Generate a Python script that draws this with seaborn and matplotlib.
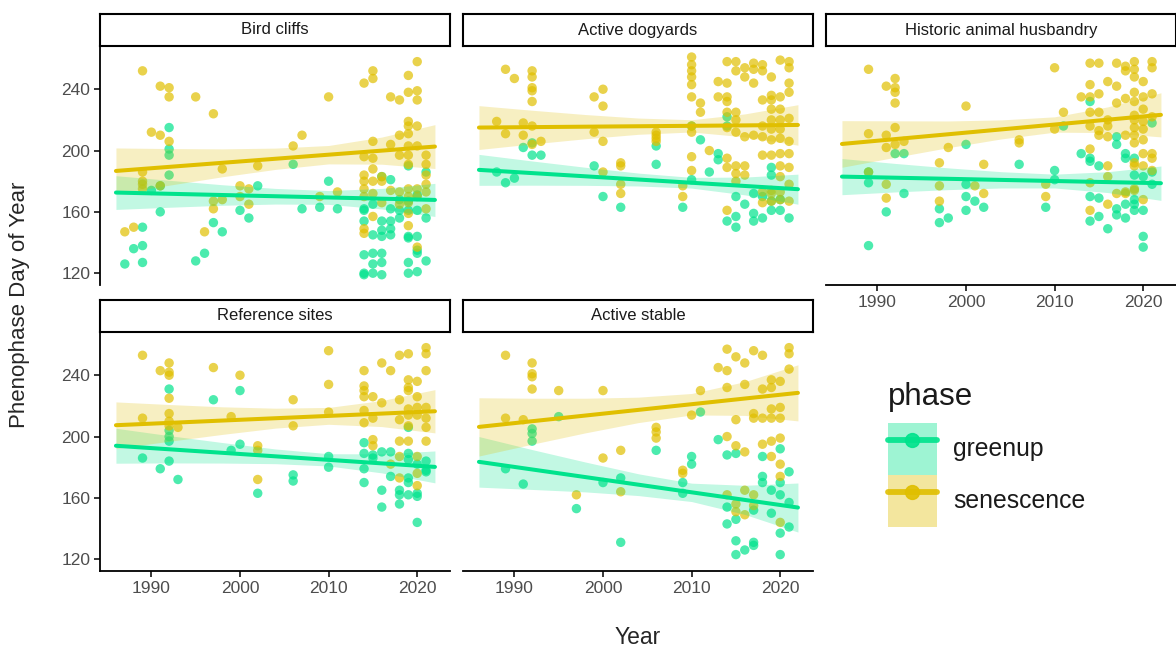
import matplotlib
matplotlib.use("Agg")
import matplotlib.pyplot as plt
from matplotlib.patches import Patch
from matplotlib.lines import Line2D
import pandas as pd
import seaborn as sns

# day of year per year
bird_cliffs_greenup = {
    1987: [126], 1988: [136], 1989: [150, 138, 127], 1990: [174], 1991: [177, 160],
    1992: [215, 201, 197, 184], 1995: [128], 1996: [133], 1997: [153], 1998: [147],
    2000: [161], 2001: [156], 2002: [177], 2006: [191], 2007: [162], 2009: [163],
    2010: [180], 2011: [162], 2014: [162, 161, 154, 132, 120, 119],
    2015: [165, 145, 133, 126, 120], 2016: [183, 154, 148, 144, 133, 127, 119],
    2017: [181, 162, 154, 149, 145], 2018: [168, 161, 156],
    2019: [190, 167, 161, 144, 143, 127, 120], 2020: [171, 161, 144, 135, 133, 121],
    2021: [186, 156, 128],
}
bird_cliffs_senescence = {
    1987: [147], 1988: [150], 1989: [252, 186, 180, 178, 175], 1990: [212],
    1991: [242, 210, 177], 1992: [241, 235, 206], 1995: [235], 1996: [147],
    1997: [224, 167, 162], 1998: [188, 168], 2000: [177, 170], 2001: [175, 165],
    2002: [190], 2006: [203], 2007: [210], 2009: [170], 2010: [235], 2011: [173],
    2014: [244, 196, 184, 180, 175, 170, 149, 146],
    2015: [252, 247, 206, 195, 188, 180, 172, 157], 2016: [183, 180, 166],
    2017: [235, 204, 174], 2018: [233, 210, 197, 173, 165],
    2019: [249, 238, 219, 216, 211, 203, 197, 191, 175, 170, 166, 159, 151],
    2020: [258, 239, 233, 216, 203, 175, 170, 137],
    2021: [197, 191, 184, 178, 173, 162],
}
dogyards_greenup = {
    1988: [186], 1989: [179], 1990: [182], 1991: [202], 1992: [205, 197], 1993: [197],
    1999: [190], 2000: [170], 2002: [163], 2006: [203, 191], 2009: [163],
    2010: [216, 181], 2011: [207], 2012: [186], 2013: [198, 194], 2014: [222, 216, 154],
    2015: [170, 157, 150], 2016: [165], 2017: [172, 159, 154], 2018: [170, 156],
    2019: [189, 184, 167, 161], 2020: [168, 161], 2021: [156],
}
dogyards_senescence = {
    1988: [219], 1989: [253, 211], 1990: [247], 1991: [218, 210],
    1992: [252, 248, 241, 239, 232, 216, 204], 1993: [206], 1999: [235, 212],
    2000: [240, 229, 206, 186], 2002: [192, 190, 178, 172], 2006: [212, 210, 208, 206],
    2009: [177, 170], 2010: [261, 256, 252, 248, 243, 235, 216, 212, 196, 187],
    2011: [231, 225], 2012: [200], 2013: [245, 235],
    2014: [258, 244, 235, 232, 225, 215, 195, 189, 161],
    2015: [258, 252, 225, 220, 212, 190, 185, 180], 2016: [254, 248, 209, 190, 184],
    2017: [257, 253, 244, 210], 2018: [256, 252, 233, 216, 209, 197, 173, 166],
    2019: [248, 236, 233, 227, 220, 214, 207, 197, 174, 172, 167],
    2020: [259, 235, 227, 220, 214, 208, 198, 190, 183, 173, 168],
    2021: [258, 254, 244, 238, 221, 206, 198, 189, 178, 167],
}
husbandry_greenup = {
    1989: [186, 179, 138], 1991: [160], 1992: [198], 1993: [198, 172], 1997: [162, 153],
    1998: [156], 2000: [204, 178, 170, 161], 2001: [167], 2002: [163], 2006: [191],
    2009: [163], 2010: [187, 181], 2011: [216], 2013: [198],
    2014: [232, 195, 193, 170, 154], 2015: [190, 169, 157], 2016: [149],
    2017: [209, 204, 162, 158], 2018: [198, 195, 165, 156],
    2019: [195, 184, 168, 165, 161], 2020: [183, 161, 144, 137], 2021: [218, 186, 178],
}
husbandry_senescence = {
    1989: [253, 211, 186], 1991: [242, 210, 202, 178, 169],
    1992: [247, 241, 238, 231, 215, 204], 1993: [206], 1997: [192, 177, 167],
    1998: [202], 2000: [229], 2001: [177], 2002: [191, 172], 2006: [207, 205],
    2009: [178, 170], 2010: [254, 214], 2011: [225], 2013: [235],
    2014: [257, 243, 235, 225, 216, 201, 179, 161], 2015: [257, 237, 225, 213, 210],
    2016: [245, 220, 216, 209, 190, 183, 165], 2017: [257, 242, 231, 172],
    2018: [255, 252, 234, 210, 173, 172],
    2019: [258, 253, 248, 238, 232, 223, 220, 215, 210, 205, 192, 190, 175, 174],
    2020: [245, 235, 227, 219, 214, 207, 198, 190, 168],
    2021: [258, 254, 237, 222, 198, 195, 187],
}
reference_greenup = {
    1989: [186], 1991: [179], 1992: [231, 204, 200, 197, 184], 1993: [172], 1997: [224],
    1999: [191], 2000: [230, 195], 2002: [163], 2006: [175, 171], 2010: [187, 180],
    2014: [196, 189, 179, 170], 2015: [188, 186], 2016: [190, 165, 154],
    2017: [190, 174], 2018: [165, 162, 156], 2019: [206, 189, 185, 173, 170, 162],
    2020: [182, 163, 161, 144], 2021: [184, 178, 177],
}
reference_senescence = {
    1989: [253, 212], 1991: [243], 1992: [248, 242, 240, 225, 215, 210, 207],
    1993: [206], 1997: [245], 1999: [213], 2000: [240], 2002: [194, 191, 172],
    2006: [224, 207], 2010: [256, 234, 216], 2014: [243, 233, 230, 226, 217, 209],
    2015: [226, 212, 198, 194], 2016: [248, 222], 2017: [243, 182],
    2018: [253, 224, 211, 197, 187, 173], 2019: [254, 237, 232, 230, 218, 214, 207, 197],
    2020: [236, 226, 219, 214, 187, 176, 168], 2021: [258, 254, 243, 219, 212, 206, 197],
}
stable_greenup = {
    1989: [179], 1991: [169], 1992: [205, 202, 197], 1995: [213], 1997: [153],
    2000: [170], 2002: [173, 131], 2006: [191], 2009: [170, 163], 2010: [187, 182],
    2011: [216], 2013: [198], 2014: [188, 154, 143], 2015: [189, 146, 132, 123],
    2016: [126], 2017: [152, 131, 129], 2018: [187, 174, 170], 2019: [165, 150],
    2020: [192, 170, 162, 137, 123], 2021: [177, 157, 141],
}
stable_senescence = {
    1989: [253, 212], 1991: [211], 1992: [248, 241, 239, 231], 1995: [230], 1997: [162],
    2000: [230, 186], 2002: [191, 164], 2006: [206, 203, 199], 2009: [178, 176],
    2010: [214], 2011: [230], 2013: [245], 2014: [257, 243, 232, 200, 162],
    2015: [252, 211, 194, 156, 151], 2016: [248, 234, 190, 165, 149],
    2017: [256, 215, 212, 162, 155], 2018: [253, 231, 212, 195],
    2019: [237, 232, 218, 212, 197, 187], 2020: [236, 219, 212, 199, 182, 174, 144],
    2021: [258, 254, 244],
}

# fitted trend (lm): ends at 1986 and 2022, band at band_years
trend_years = [1986, 2022]
band_years = [1986, 1992, 1998, 2004, 2010, 2016, 2022]
trend_fit = {
    "Bird cliffs": ([172.6, 167.8], [186.7, 202.6]),
    "Active dogyards": ([187.4, 174.8], [215.0, 216.7]),
    "Historic animal husbandry": ([183.0, 178.7], [204.3, 223.3]),
    "Reference sites": ([194.0, 180.2], [207.4, 216.5]),
    "Active stable": ([183.5, 153.7], [206.3, 228.5]),
}
band_lower = {
    "Bird cliffs": ([161.6, 163.0, 164.3, 165.1, 164.9, 161.9, 157.0],
                    [171.7, 177.4, 182.9, 187.7, 191.3, 191.1, 188.3]),
    "Active dogyards": ([177.3, 177.4, 177.3, 176.9, 175.5, 171.1, 165.0],
                        [200.7, 204.3, 207.7, 210.6, 212.1, 208.9, 203.5]),
    "Historic animal husbandry": ([171.2, 173.0, 174.5, 175.6, 175.6, 172.6, 167.5],
                                  [189.1, 195.6, 201.9, 207.6, 212.0, 211.7, 208.9]),
    "Reference sites": ([182.6, 182.8, 182.7, 182.3, 180.8, 176.3, 169.8],
                        [192.2, 196.9, 201.4, 205.5, 208.0, 206.5, 202.4]),
    "Active stable": ([167.0, 165.5, 163.9, 161.5, 157.6, 149.2, 137.7],
                      [187.3, 195.0, 202.4, 209.1, 214.1, 213.8, 210.2]),
}
band_upper = {
    "Bird cliffs": ([183.6, 180.6, 177.7, 175.3, 173.9, 175.3, 178.6],
                    [201.7, 201.3, 201.1, 201.6, 203.3, 208.8, 216.9]),
    "Active dogyards": ([197.5, 193.2, 189.1, 185.3, 182.5, 182.7, 184.6],
                        [229.3, 226.3, 223.5, 221.2, 220.1, 223.9, 229.9]),
    "Historic animal husbandry": ([194.8, 191.6, 188.7, 186.2, 184.6, 186.2, 189.9],
                                  [219.5, 219.4, 219.3, 220.0, 222.0, 228.5, 237.7]),
    "Reference sites": ([205.4, 200.6, 196.1, 191.9, 188.8, 188.7, 190.6],
                        [222.6, 220.9, 219.4, 218.5, 219.0, 223.5, 230.6]),
    "Active stable": ([200.0, 191.5, 183.4, 175.7, 169.6, 168.2, 169.7],
                      [225.3, 225.0, 225.0, 225.7, 228.1, 235.8, 246.8]),
}

sites = ["Bird cliffs", "Active dogyards", "Historic animal husbandry",
         "Reference sites", "Active stable"]
site_data = {
    "Bird cliffs": (bird_cliffs_greenup, bird_cliffs_senescence),
    "Active dogyards": (dogyards_greenup, dogyards_senescence),
    "Historic animal husbandry": (husbandry_greenup, husbandry_senescence),
    "Reference sites": (reference_greenup, reference_senescence),
    "Active stable": (stable_greenup, stable_senescence),
}
phases = ["greenup", "senescence"]
colors = {"greenup": "#00E38C", "senescence": "#E0BF00"}

rows = []
for site, pair in site_data.items():
    for phase, d in zip(phases, pair):
        for yr, days in d.items():
            for v in days:
                rows.append((site, phase, yr, v))
df = pd.DataFrame(rows, columns=["site", "phase", "year", "doy"])

sns.set_theme(style="ticks")
plt.rcParams["font.family"] = ["Liberation Sans", "DejaVu Sans"]

W, H = 1176, 649
fig = plt.figure(figsize=(W / 100, H / 100), dpi=100)


def box(l, t, w, h):
    return [l / W, 1 - (t + h) / H, w / W, h / H]


# (left px, top px, show y axis, show x axis)
layout = [(100, 46, True, False), (463, 46, False, False), (826, 46, False, True),
          (100, 332, True, True), (463, 332, False, True)]

for site, (left, top, show_y, show_x) in zip(sites, layout):
    ax = fig.add_axes(box(left, top, 350, 239))
    sub = df[df.site == site]
    sns.scatterplot(data=sub, x="year", y="doy", hue="phase", palette=colors,
                    s=46, alpha=0.7, linewidth=0, legend=False, ax=ax)
    for i, phase in enumerate(phases):
        ax.fill_between(band_years, band_lower[site][i], band_upper[site][i],
                        color=colors[phase], alpha=0.24, linewidth=0)
        fit = pd.DataFrame({"year": trend_years, "doy": trend_fit[site][i]})
        sns.lineplot(data=fit, x="year", y="doy", color=colors[phase], lw=2.9, ax=ax)
    ax.set_xlim(1984.2, 2023.7)
    ax.set_ylim(112.3, 268.2)
    ax.set_xticks([1990, 2000, 2010, 2020])
    ax.set_yticks([120, 160, 200, 240])
    ax.set_xlabel("")
    ax.set_ylabel("")
    sns.despine(ax=ax)
    for s in ("left", "bottom"):
        ax.spines[s].set_linewidth(1.3)
        ax.spines[s].set_color("black")
    ax.spines["left"].set_visible(show_y)
    ax.spines["bottom"].set_visible(show_x)
    ax.tick_params(length=4, width=1.1, color="black", labelcolor="#4D4D4D",
                   labelsize=12.5, pad=3)
    ax.tick_params(axis="y", left=show_y, labelleft=show_y)
    ax.tick_params(axis="x", bottom=show_x, labelbottom=show_x)

    strip = fig.add_axes(box(left, top - 32, 350, 32))
    strip.set_xticks([])
    strip.set_yticks([])
    for s in strip.spines.values():
        s.set_visible(True)
        s.set_linewidth(1.5)
        s.set_color("black")
    strip.text(0.5, 0.5, site, ha="center", va="center", fontsize=12, color="#1A1A1A",
               transform=strip.transAxes)

fig.text(20 / W, 1 - 305 / H, "Phenophase Day of Year", rotation=90,
         ha="center", va="center", fontsize=16)
fig.text(638 / W, 1 - 638 / H, "Year", ha="center", va="center", fontsize=16.5)

# legend: title as its own text, keys stacked below it
fig.text(888 / W, 1 - 382 / H, "phase", ha="left", va="top", fontsize=22.5,
         color="#1A1A1A")
handles = [(Patch(facecolor=colors[p], alpha=0.38, edgecolor="none"),
            Line2D([], [], color=colors[p], lw=4.2, marker="o", ms=10, alpha=0.9))
           for p in phases]
leg = fig.legend(handles, phases, loc="upper left",
                 bbox_to_anchor=(888 / W, 1 - 423 / H), frameon=False, fontsize=17.8,
                 handlelength=1.98, handleheight=2.86,
                 labelspacing=0, handletextpad=0.65, borderpad=0, borderaxespad=0)
for t in leg.get_texts():
    t.set_color("#1A1A1A")

fig.savefig("out.png", dpi=100)
